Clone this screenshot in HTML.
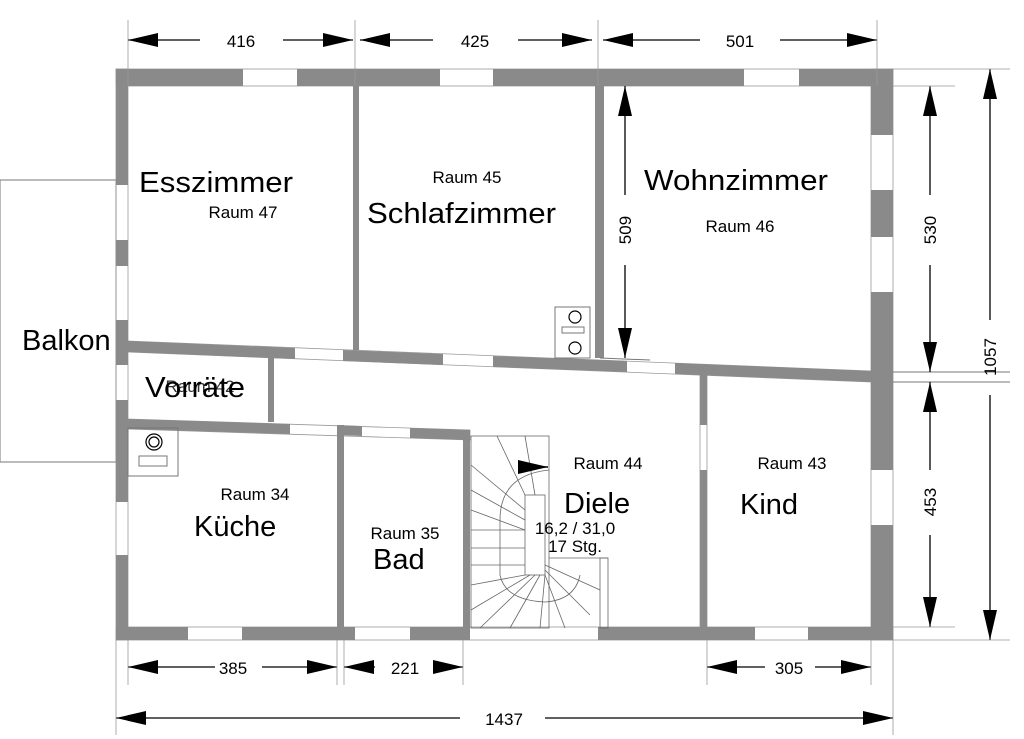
<!DOCTYPE html>
<html><head><meta charset="utf-8"><style>html,body{margin:0;padding:0;background:#fff}svg{display:block}</style></head>
<body>
<svg width="1024" height="739" viewBox="0 0 1024 739" xmlns="http://www.w3.org/2000/svg" font-family="Liberation Sans, sans-serif">
<defs>
<marker id="b" viewBox="0 0 30 14" refX="30" refY="7" markerWidth="30" markerHeight="14" orient="auto-start-reverse" markerUnits="userSpaceOnUse"><path d="M0,0L30,7L0,14z" fill="#000"/></marker>
</defs>
<rect x="0" y="180" width="116" height="282" fill="none" stroke="#777" stroke-width="1"/>
<g fill="none" stroke="#999" stroke-width="0.8">
<rect x="116" y="69" width="777" height="17"/>
<rect x="116" y="69" width="12" height="571"/>
<rect x="871" y="69" width="22" height="571"/>
<rect x="116" y="627" width="777" height="13"/>
<polygon points="128,341 871,371 871,382 128,352"/>
<polygon points="128,419 470,430 470,440 128,429"/>
<rect x="700" y="375" width="7" height="252"/>
</g>
<g fill="#8a8a8a">
<rect x="116" y="69" width="127" height="17"/><rect x="297" y="69" width="143" height="17"/><rect x="493" y="69" width="251" height="17"/><rect x="799" y="69" width="94" height="17"/>
<rect x="116" y="69" width="12" height="116"/><rect x="116" y="240" width="12" height="26"/><rect x="116" y="320" width="12" height="45"/><rect x="116" y="400" width="12" height="102"/><rect x="116" y="555" width="12" height="85"/>
<rect x="871" y="69" width="22" height="66"/><rect x="871" y="190" width="22" height="47"/><rect x="871" y="292" width="22" height="178"/><rect x="871" y="525" width="22" height="115"/>
<rect x="116" y="627" width="72" height="13"/><rect x="242" y="627" width="113" height="13"/><rect x="410" y="627" width="60" height="13"/><rect x="598" y="627" width="157" height="13"/><rect x="808" y="627" width="85" height="13"/>
<rect x="353" y="86" width="6" height="264"/><rect x="595" y="86" width="9" height="272"/>
<rect x="337" y="425" width="7" height="202"/><rect x="463" y="430" width="7" height="197"/>
<rect x="700" y="375" width="7" height="50"/><rect x="700" y="470" width="7" height="157"/>
<rect x="268" y="352" width="6" height="70"/>
<polygon points="128,341 295,348 295,359 128,352"/>
<polygon points="343,350 443,354 443,365 343,361"/>
<polygon points="493,356 627,361 627,372 493,367"/>
<polygon points="675,363 871,371 871,382 675,374"/>
<polygon points="128,419 290,424 290,434 128,429"/>
<polygon points="337,425 362,426 362,436 337,435"/>
<polygon points="410,428 470,430 470,440 410,438"/>
</g>
<g stroke="#777" stroke-width="1" fill="none">
<rect x="128" y="428" width="50" height="48"/>
<rect x="555" y="307" width="35" height="51"/>
<rect x="562" y="327" width="22" height="6"/>
<rect x="139" y="456" width="28" height="10"/>
<line x1="600" y1="358" x2="650" y2="360"/>
<line x1="893" y1="372" x2="1010" y2="372"/>
<line x1="893" y1="382" x2="1010" y2="382"/>
</g>
<g stroke="#000" stroke-width="1.2" fill="none">
<circle cx="154" cy="442" r="8"/><circle cx="154" cy="442" r="5"/>
<circle cx="575" cy="317" r="6"/><circle cx="575" cy="348" r="6"/>
</g>
<g stroke="#666" stroke-width="0.8" fill="none">
<rect x="471" y="436" width="78" height="192"/>
<rect x="525" y="495" width="20" height="80"/>
<path d="M549,470 Q500,475 500,520 L500,575 Q505,600 545,602 Q575,600 580,575"/>
<rect x="600" y="558" width="8" height="70"/>
<line x1="549" y1="558" x2="608" y2="558"/>
<line x1="471" y1="465" x2="525" y2="510"/><line x1="471" y1="490" x2="525" y2="520"/>
<line x1="471" y1="510" x2="525" y2="530"/><line x1="471" y1="530" x2="525" y2="530"/>
<line x1="471" y1="548" x2="525" y2="548"/><line x1="471" y1="565" x2="525" y2="565"/>
<line x1="471" y1="585" x2="525" y2="575"/><line x1="471" y1="610" x2="530" y2="575"/>
<line x1="480" y1="628" x2="535" y2="575"/><line x1="510" y1="628" x2="540" y2="575"/>
<line x1="540" y1="628" x2="545" y2="575"/><line x1="565" y1="628" x2="545" y2="575"/>
<line x1="590" y1="615" x2="545" y2="570"/><line x1="600" y1="590" x2="545" y2="565"/>
<line x1="497" y1="436" x2="525" y2="495"/><line x1="525" y1="436" x2="535" y2="495"/>
</g>
<line x1="520" y1="467" x2="548" y2="467" stroke="#000" stroke-width="1.5" marker-end="url(#b)"/>
<g stroke="#000" stroke-width="1.3" fill="none">
<line x1="128" y1="40" x2="200" y2="40" marker-start="url(#b)"/><line x1="283" y1="40" x2="353" y2="40" marker-end="url(#b)"/>
<line x1="360" y1="40" x2="433" y2="40" marker-start="url(#b)"/><line x1="518" y1="40" x2="592" y2="40" marker-end="url(#b)"/>
<line x1="603" y1="40" x2="700" y2="40" marker-start="url(#b)"/><line x1="780" y1="40" x2="877" y2="40" marker-end="url(#b)"/>
<line x1="128" y1="667" x2="215" y2="667" marker-start="url(#b)"/><line x1="262" y1="667" x2="337" y2="667" marker-end="url(#b)"/>
<line x1="344" y1="667" x2="375" y2="667" marker-start="url(#b)"/><line x1="435" y1="667" x2="463" y2="667" marker-end="url(#b)"/>
<line x1="707" y1="667" x2="765" y2="667" marker-start="url(#b)"/><line x1="815" y1="667" x2="871" y2="667" marker-end="url(#b)"/>
<line x1="116" y1="718" x2="460" y2="718" marker-start="url(#b)"/><line x1="545" y1="718" x2="893" y2="718" marker-end="url(#b)"/>
<line x1="930" y1="86" x2="930" y2="195" marker-start="url(#b)"/><line x1="930" y1="265" x2="930" y2="372" marker-end="url(#b)"/>
<line x1="930" y1="382" x2="930" y2="470" marker-start="url(#b)"/><line x1="930" y1="535" x2="930" y2="627" marker-end="url(#b)"/>
<line x1="990" y1="69" x2="990" y2="320" marker-start="url(#b)"/><line x1="990" y1="395" x2="990" y2="640" marker-end="url(#b)"/>
<line x1="625" y1="86" x2="625" y2="195" marker-start="url(#b)"/><line x1="625" y1="265" x2="625" y2="358" marker-end="url(#b)"/>
</g>
<g stroke="#999" stroke-width="0.8">
<line x1="128" y1="20" x2="128" y2="86"/><line x1="355" y1="20" x2="355" y2="86"/><line x1="598" y1="20" x2="598" y2="86"/><line x1="877" y1="20" x2="877" y2="86"/>
<line x1="893" y1="69" x2="1010" y2="69"/><line x1="893" y1="86" x2="955" y2="86"/><line x1="893" y1="627" x2="955" y2="627"/><line x1="893" y1="640" x2="1010" y2="640"/>
<line x1="116" y1="640" x2="116" y2="735"/><line x1="893" y1="640" x2="893" y2="735"/>
<line x1="128" y1="640" x2="128" y2="685"/><line x1="337" y1="640" x2="337" y2="685"/><line x1="344" y1="640" x2="344" y2="685"/><line x1="463" y1="640" x2="463" y2="685"/><line x1="707" y1="640" x2="707" y2="685"/><line x1="871" y1="640" x2="871" y2="685"/>
</g>
<g font-size="17" text-anchor="middle" fill="#000">
<text x="241" y="47">416</text><text x="475" y="47">425</text><text x="740" y="47">501</text>
<text x="233" y="674">385</text><text x="405" y="674">221</text><text x="789" y="674">305</text>
<text x="504" y="725">1437</text>
<text transform="translate(936,230) rotate(-90)">530</text>
<text transform="translate(936,502) rotate(-90)">453</text>
<text transform="translate(996,357) rotate(-90)">1057</text>
<text transform="translate(631,230) rotate(-90)">509</text>
<text x="243" y="218">Raum 47</text><text x="467" y="183">Raum 45</text><text x="740" y="232">Raum 46</text>
<text x="255" y="500">Raum 34</text><text x="405" y="539">Raum 35</text><text x="608" y="469">Raum 44</text><text x="792" y="469">Raum 43</text>
<text x="200" y="392" fill="#333">Raum 42</text>
<text x="575" y="534">16,2 / 31,0</text><text x="575" y="552">17 Stg.</text>
</g>
<g font-size="29" fill="#000">
<text x="139" y="192" textLength="154" lengthAdjust="spacingAndGlyphs">Esszimmer</text><text x="367" y="223" textLength="189" lengthAdjust="spacingAndGlyphs">Schlafzimmer</text><text x="644" y="190" textLength="184" lengthAdjust="spacingAndGlyphs">Wohnzimmer</text>
<text x="22" y="350">Balkon</text><text x="145" y="397" textLength="100" lengthAdjust="spacingAndGlyphs">Vorräte</text>
<text x="194" y="536">Küche</text><text x="373" y="569">Bad</text><text x="564" y="513">Diele</text><text x="740" y="514">Kind</text>
</g>
</svg>
</body></html>
